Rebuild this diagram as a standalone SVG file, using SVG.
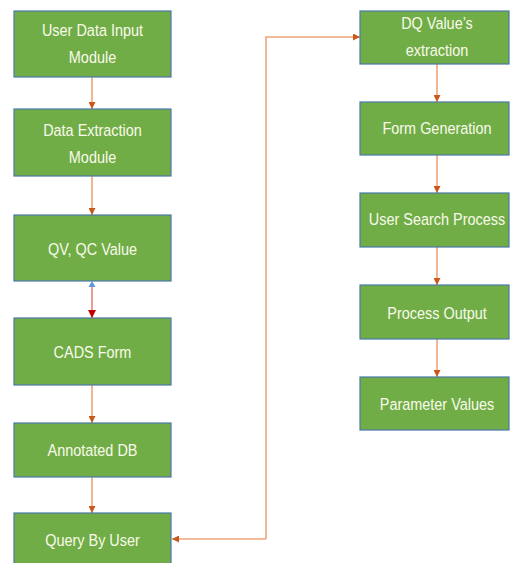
<svg xmlns="http://www.w3.org/2000/svg" width="510" height="563" viewBox="0 0 510 563">
  <style>
    .box { fill: #70AD47; stroke: #4A79A8; stroke-width: 1.2; }
    .lbl { font-family: "Liberation Sans", Arial, sans-serif; font-size: 16.5px; fill: #FAFAEA; text-anchor: middle; }
    .wire { fill: none; stroke: #F0A478; stroke-width: 1.6; }
    .wire-red { fill: none; stroke: #EE8080; stroke-width: 1.6; }
  </style>
  <defs>
    <marker id="arr" viewBox="0 0 10 10" refX="10" refY="5" markerWidth="7" markerHeight="7" markerUnits="userSpaceOnUse" orient="auto">
      <path d="M0,0 L10,5 L0,10 z" fill="#C9581A"/>
    </marker>
    <marker id="arr-red" viewBox="0 0 10 10" refX="10" refY="5" markerWidth="8" markerHeight="8" markerUnits="userSpaceOnUse" orient="auto">
      <path d="M0,0 L10,5 L0,10 z" fill="#C00000"/>
    </marker>
  </defs>

  <rect width="510" height="563" fill="#FFFFFF"/>

  <!-- connectors -->
  <g id="connectors">
    <line class="wire" x1="92" y1="77" x2="92" y2="109" marker-end="url(#arr)"/>
    <line class="wire" x1="92" y1="176" x2="92" y2="215" marker-end="url(#arr)"/>
    <line class="wire-red" x1="92" y1="283" x2="92" y2="318" marker-end="url(#arr-red)"/>
    <path d="M88.5,287 L92,281 L95.5,287 z" fill="#5B9BD5"/>
    <line class="wire" x1="92" y1="385" x2="92" y2="423" marker-end="url(#arr)"/>
    <line class="wire" x1="92" y1="477" x2="92" y2="513" marker-end="url(#arr)"/>
    <polyline class="wire" points="266,539 266,37 360,37" marker-end="url(#arr)"/>
    <line class="wire" x1="266" y1="539" x2="172" y2="539" marker-end="url(#arr)"/>
    <line class="wire" x1="437" y1="64" x2="437" y2="102" marker-end="url(#arr)"/>
    <line class="wire" x1="437" y1="155" x2="437" y2="193" marker-end="url(#arr)"/>
    <line class="wire" x1="437" y1="247" x2="437" y2="285" marker-end="url(#arr)"/>
    <line class="wire" x1="437" y1="339" x2="437" y2="377" marker-end="url(#arr)"/>
  </g>

  <!-- left column (labels narrowed horizontally) -->
  <g id="user-data-input">
    <rect class="box" x="14" y="11" width="157" height="66"/>
    <text class="lbl" transform="translate(92.5 36) scale(0.875 1)">User Data Input</text>
    <text class="lbl" transform="translate(92.5 63) scale(0.875 1)">Module</text>
  </g>
  <g id="data-extraction">
    <rect class="box" x="14" y="109" width="157" height="67"/>
    <text class="lbl" transform="translate(92.5 136) scale(0.875 1)">Data Extraction</text>
    <text class="lbl" transform="translate(92.5 163) scale(0.875 1)">Module</text>
  </g>
  <g id="qv-qc-value">
    <rect class="box" x="14" y="215" width="157" height="66"/>
    <text class="lbl" transform="translate(92.5 255) scale(0.875 1)">QV, QC Value</text>
  </g>
  <g id="cads-form">
    <rect class="box" x="14" y="318" width="157" height="67"/>
    <text class="lbl" transform="translate(92.5 358) scale(0.875 1)">CADS Form</text>
  </g>
  <g id="annotated-db">
    <rect class="box" x="14" y="423" width="157" height="54"/>
    <text class="lbl" transform="translate(92.5 456) scale(0.875 1)">Annotated DB</text>
  </g>
  <g id="query-by-user">
    <rect class="box" x="14" y="513" width="157" height="55"/>
    <text class="lbl" transform="translate(92.5 546) scale(0.875 1)">Query By User</text>
  </g>

  <!-- right column -->
  <g id="dq-value-extraction">
    <rect class="box" x="360" y="11" width="149" height="53"/>
    <text class="lbl" transform="translate(437 29) scale(0.875 1)">DQ Value’s</text>
    <text class="lbl" transform="translate(437 56) scale(0.875 1)">extraction</text>
  </g>
  <g id="form-generation">
    <rect class="box" x="360" y="102" width="149" height="53"/>
    <text class="lbl" transform="translate(437 134) scale(0.875 1)">Form Generation</text>
  </g>
  <g id="user-search-process">
    <rect class="box" x="360" y="193" width="149" height="54"/>
    <text class="lbl" transform="translate(437 225) scale(0.875 1)">User Search Process</text>
  </g>
  <g id="process-output">
    <rect class="box" x="360" y="285" width="149" height="54"/>
    <text class="lbl" transform="translate(437 319) scale(0.875 1)">Process Output</text>
  </g>
  <g id="parameter-values">
    <rect class="box" x="360" y="377" width="149" height="53"/>
    <text class="lbl" transform="translate(437 410) scale(0.875 1)">Parameter Values</text>
  </g>
</svg>
